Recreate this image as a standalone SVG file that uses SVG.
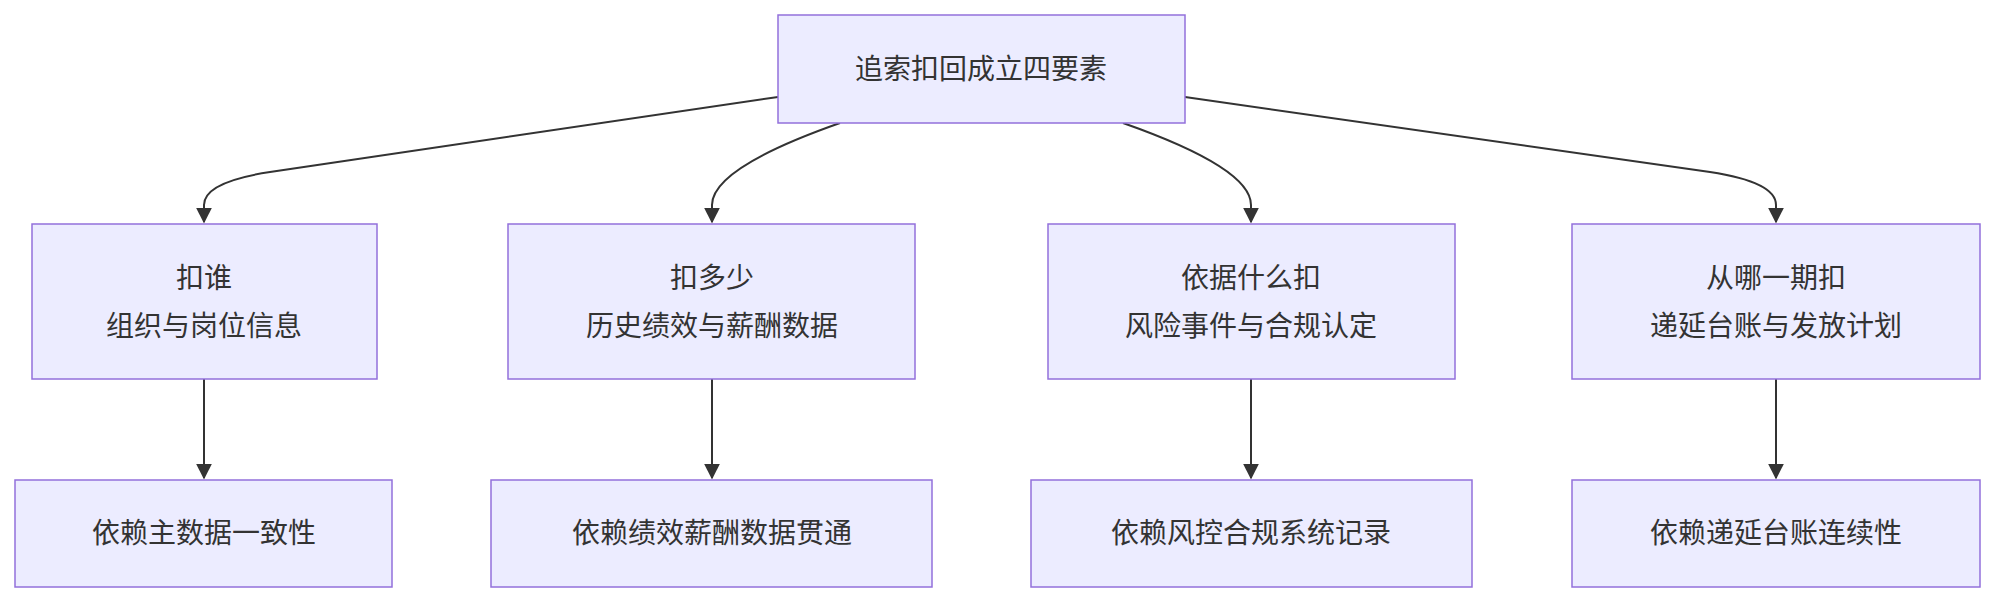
<svg xmlns="http://www.w3.org/2000/svg" width="1996" height="604" viewBox="0 0 1996 604">
<style>
.n{fill:#ECECFF;stroke:#9370DB;stroke-width:1.5}
.t{font-family:"Liberation Sans","Noto Sans CJK SC",sans-serif;font-size:28px;fill:#333;text-anchor:middle}
.c{fill:none;stroke:#333;stroke-width:2}
</style>
<defs><marker id="a" viewBox="0 0 10 10" refX="9" refY="5" markerWidth="8" markerHeight="8" orient="auto"><path d="M0,0L10,5L0,10z" fill="#333"/></marker></defs>
<rect width="1996" height="604" fill="#fff"/>
<g id="connectors">
<path class="c" d="M778,97 L270,172 Q204,182 204,205 L204,222" marker-end="url(#a)"/>
<path class="c" d="M840,123 Q712,168 712,205 L712,222" marker-end="url(#a)"/>
<path class="c" d="M1123,123 Q1251,168 1251,205 L1251,222" marker-end="url(#a)"/>
<path class="c" d="M1185,97 L1710,172 Q1776,182 1776,205 L1776,222" marker-end="url(#a)"/>
<path class="c" d="M204,379 L204,478" marker-end="url(#a)"/>
<path class="c" d="M712,379 L712,478" marker-end="url(#a)"/>
<path class="c" d="M1251,379 L1251,478" marker-end="url(#a)"/>
<path class="c" d="M1776,379 L1776,478" marker-end="url(#a)"/>
</g>
<g id="root"><rect class="n" x="778" y="15" width="407" height="108"/><text class="t" x="981" y="79">追索扣回成立四要素</text></g>
<g id="who"><rect class="n" x="32" y="224" width="345" height="155"/><text class="t" x="204" y="288">扣谁</text><text class="t" x="204" y="336">组织与岗位信息</text></g>
<g id="much"><rect class="n" x="508" y="224" width="407" height="155"/><text class="t" x="712" y="288">扣多少</text><text class="t" x="712" y="336">历史绩效与薪酬数据</text></g>
<g id="basis"><rect class="n" x="1048" y="224" width="407" height="155"/><text class="t" x="1251" y="288">依据什么扣</text><text class="t" x="1251" y="336">风险事件与合规认定</text></g>
<g id="when"><rect class="n" x="1572" y="224" width="408" height="155"/><text class="t" x="1776" y="288">从哪一期扣</text><text class="t" x="1776" y="336">递延台账与发放计划</text></g>
<g id="d1"><rect class="n" x="15" y="480" width="377" height="107"/><text class="t" x="204" y="543">依赖主数据一致性</text></g>
<g id="d2"><rect class="n" x="491" y="480" width="441" height="107"/><text class="t" x="712" y="543">依赖绩效薪酬数据贯通</text></g>
<g id="d3"><rect class="n" x="1031" y="480" width="441" height="107"/><text class="t" x="1251" y="543">依赖风控合规系统记录</text></g>
<g id="d4"><rect class="n" x="1572" y="480" width="408" height="107"/><text class="t" x="1776" y="543">依赖递延台账连续性</text></g>
</svg>
